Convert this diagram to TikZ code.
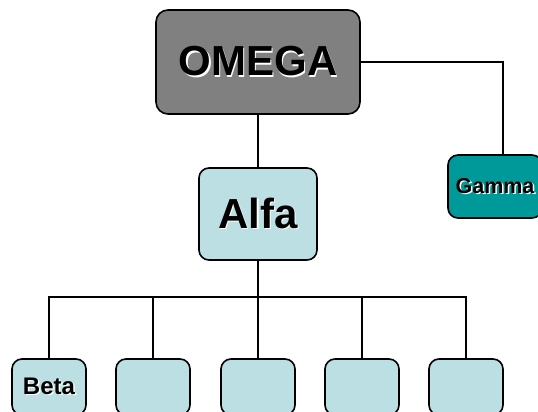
\documentclass[tikz,border=0pt]{standalone}
\usepackage{fontspec}
\setmainfont{Liberation Sans}
\usetikzlibrary{positioning}

\definecolor{boss}{HTML}{808080}
\definecolor{pale}{HTML}{BBDFE2}
\definecolor{teal2}{HTML}{009999}

% bold text with a small white shadow
\newcommand{\shtext}[1]{\makebox[0pt][l]{\hspace{1.5pt}\raisebox{-1.5pt}{\color{white}#1}}#1}

\begin{document}
\begin{tikzpicture}[x=1pt,y=-1pt,every node/.style={font=\bfseries},
  box/.style={draw,rounded corners=10pt,line width=1.6pt,inner sep=0pt},
  big/.style={font=\bfseries\fontsize{42}{42}\selectfont},
  small/.style={font=\bfseries\fontsize{24}{24}\selectfont},
  leaf/.style={box,small,fill=pale,minimum width=74pt,minimum height=56pt},
  link/.style={line width=2.4pt}]

	\clip (0,0) rectangle (538,412);

	\node[box,big,fill=boss,rounded corners=12pt,minimum width=204pt,minimum height=104pt] (omega) at (258,62) {\shtext{OMEGA}};
	\node[box,big,fill=pale,minimum width=118pt,minimum height=92pt] (alfa) at (258,214) {\shtext{Alfa}};
	\node[box,small,font=\bfseries\fontsize{21.5}{22}\selectfont,fill=teal2,minimum width=94pt,minimum height=63pt] (gamma) at (495,186.5) {\shtext{Gamma}};

	\node[leaf] (beta) at (49,387) {\shtext{Beta}};
	\node[leaf] (c2) at (153,387) {};
	\node[leaf] (c3) at (258,387) {};
	\node[leaf] (c4) at (362,387) {};
	\node[leaf] (c5) at (466,387) {};

	\coordinate (bus) at (258,297);

	\draw[link] (omega.south) -- (alfa.north);
	\draw[link] (omega.east) -| ([xshift=8pt]gamma.north);
	\draw[link] (alfa.south) -- (bus);
	\foreach \n in {beta,c2,c3,c4,c5}
		\draw[link] (bus) -| (\n.north);
\end{tikzpicture}
\end{document}
